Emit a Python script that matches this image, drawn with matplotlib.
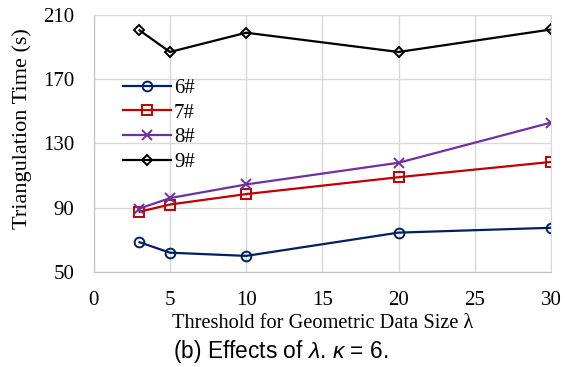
import numpy as np
import matplotlib
matplotlib.use('Agg')
import matplotlib.pyplot as plt

plt.rcParams['mathtext.fontset'] = 'custom'
plt.rcParams['mathtext.rm'] = 'Liberation Sans'
plt.rcParams['mathtext.it'] = 'Liberation Sans:italic'

# data
lam = [3, 5, 10, 20, 30]
t6 = [68.5, 62, 60, 74.5, 77.5]
t7 = [87.5, 92, 98.5, 109, 118.5]
t8 = [89.5, 96, 104.5, 118, 143]
t9 = [200.5, 187, 199, 187, 201]

labels = ['6#', '7#', '8#', '9#']
colors = ['#002060', '#c00000', '#7030a0', '#000000']
markers = ['o', 's', 'x', 'D']

fig = plt.figure(figsize=(5.65, 3.67), dpi=100)
ax = fig.add_axes([0.166, 0.259, 0.809, 0.70])

for ys, lab, c, m in zip([t6, t7, t8, t9], labels, colors, markers):
    ms = 5.5 if m == 'D' else 7
    ax.plot(lam, ys, color=c, marker=m, markersize=ms, markerfacecolor='none',
            markeredgecolor=c, markeredgewidth=1.4, linewidth=1.6, label=lab)

ax.set_xlim(0, 30)
ax.set_ylim(50, 210)
ax.set_xticks([0, 5, 10, 15, 20, 25, 30])
ax.set_yticks([50, 90, 130, 170, 210])
ax.grid(True, color='#d9d9d9', linewidth=1)
ax.set_axisbelow(True)
for s in ax.spines.values():
    s.set_color('#d9d9d9')
ax.spines['left'].set_color('#bfbfbf')
ax.spines['bottom'].set_color('#bfbfbf')
ax.tick_params(axis='x', length=0, labelsize=15, pad=13.5)
ax.tick_params(axis='y', length=0, labelsize=15, pad=14)
for t in ax.get_xticklabels() + ax.get_yticklabels():
    t.set_family('Liberation Serif')

ax.set_xlabel('Threshold for Geometric Data Size λ', family='Liberation Serif',
              fontsize=14.7)
ax.set_ylabel('Triangulation Time (s)', family='Liberation Serif', fontsize=16)
ax.xaxis.set_label_coords(0.5, -0.163)
ax.yaxis.set_label_coords(-0.136, 0.56)

leg = ax.legend(loc='upper left', bbox_to_anchor=(0.023, 0.827), frameon=False,
                prop={'family': 'Liberation Serif', 'size': 15},
                handlelength=2.3, handletextpad=0.15, labelspacing=0.25)

fig.text(0.497, 0.025, r'(b) Effects of $\lambda$. $\kappa$ = 6.', ha='center',
         family='Liberation Sans', fontsize=16.4)

plt.savefig('out.png', dpi=100)
